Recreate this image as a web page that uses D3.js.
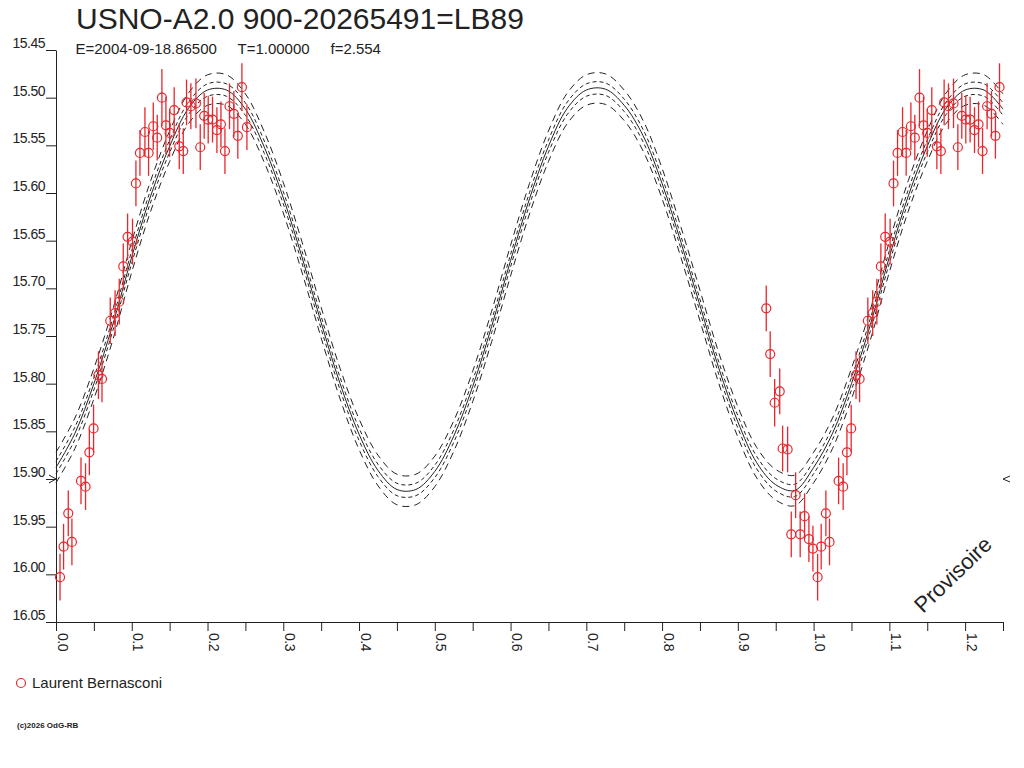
<!DOCTYPE html>
<html>
<head>
<meta charset="utf-8">
<script src="https://cdn.jsdelivr.net/npm/d3@7"></script>
<style>
  body { margin: 0; background: #fff; }
  svg text { font-family: "Liberation Sans", Arial, sans-serif; fill: #222; }
</style>
</head>
<body>
<svg id="chart" width="1024" height="768"></svg>
<script>
// ************************************
// Data
// ************************************

const titleText = "USNO-A2.0 900-20265491=LB89";
const epochText = "E=2004-09-18.86500";
const periodText = "T=1.00000";
const fText = "f=2.554";
const observer = "Laurent Bernasconi";

// observations: phase, magnitude, error
const obsPhase = [
  -0.0625, -0.0573, -0.0514, -0.0447, -0.0409, -0.0343, -0.0295, -0.0237, -0.0177, -0.0119, -0.0062, -0.0009,
  0.0053, 0.0100, 0.0162, 0.0210, 0.0330, 0.0390, 0.0440, 0.0496, 0.0560, 0.0607,
  0.0716, 0.0780, 0.0835, 0.0888, 0.0945, 0.1010, 0.1055, 0.1108, 0.1174, 0.1222,
  0.1284, 0.1336, 0.1398, 0.1451, 0.1500, 0.1560, 0.1627, 0.1680, 0.1723, 0.1780,
  0.1847, 0.1904, 0.1956, 0.2009, 0.2066, 0.2124, 0.2177, 0.2230, 0.2290, 0.2348,
  0.2400, 0.2454, 0.2520
];
const obsMag = [
  15.721, 15.769, 15.820, 15.808, 15.868, 15.869, 15.958, 15.917, 15.958, 15.939, 15.963, 15.973,
  16.003, 15.971, 15.936, 15.966, 15.902, 15.908, 15.872, 15.847, 15.791, 15.795,
  15.734, 15.726, 15.714, 15.677, 15.646, 15.651, 15.590, 15.558, 15.536, 15.558,
  15.530, 15.542, 15.500, 15.529, 15.537, 15.513, 15.551, 15.556, 15.505, 15.509,
  15.506, 15.552, 15.519, 15.523, 15.523, 15.534, 15.528, 15.556, 15.509, 15.517,
  15.540, 15.489, 15.531
];
const obsErr = [
  0.024, 0.024, 0.025, 0.024, 0.024, 0.024, 0.024, 0.024, 0.024, 0.024, 0.024, 0.024,
  0.0245, 0.024, 0.024, 0.0245, 0.0245, 0.0245, 0.024, 0.025, 0.025, 0.0245,
  0.0245, 0.024, 0.024, 0.024, 0.0245, 0.024, 0.024, 0.024, 0.026, 0.024,
  0.025, 0.024, 0.030, 0.030, 0.025, 0.024, 0.024, 0.024, 0.024, 0.024,
  0.026, 0.024, 0.024, 0.025, 0.024, 0.024, 0.024, 0.024, 0.024, 0.024,
  0.024, 0.025, 0.024
];

// fitted model, read every 0.025 in phase
const modelPhase = [
  0.000, 0.025, 0.050, 0.075, 0.100, 0.125, 0.150, 0.175, 0.200, 0.225,
  0.250, 0.275, 0.300, 0.325, 0.350, 0.375, 0.400, 0.425, 0.450, 0.475,
  0.500, 0.525, 0.550, 0.575, 0.600, 0.625, 0.650, 0.675, 0.700, 0.725,
  0.750, 0.775, 0.800, 0.825, 0.850, 0.875, 0.900, 0.925, 0.950, 0.975, 1.000
];
const modelMag = [
  15.888, 15.852, 15.800, 15.738, 15.667, 15.603, 15.551, 15.511, 15.492, 15.492,
  15.512, 15.552, 15.605, 15.668, 15.736, 15.800, 15.853, 15.891, 15.911, 15.911,
  15.892, 15.855, 15.803, 15.740, 15.671, 15.606, 15.551, 15.511, 15.492, 15.491,
  15.508, 15.540, 15.590, 15.652, 15.718, 15.784, 15.840, 15.883, 15.906, 15.912, 15.888
];
// envelope offsets around the model (mag)
const envOffset = [-0.016, -0.0065, 0.0065, 0.016];

const refMag = 15.90;

const yTicks = d3.range(0, 13).map(i => +(15.45 + i * 0.05).toFixed(2));
const xTicks = d3.range(0, 26).map(i => +(i * 0.05).toFixed(2));

// ************************************
// Setup
// ************************************

const svg = d3.select("#chart");
const margin = { top: 50, left: 56 };
const width = 947;
const height = 572;

const x = d3.scaleLinear().domain([0, 1.25]).range([0, width]);
const y = d3.scaleLinear().domain([15.45, 16.05]).range([0, height]);

const g = svg.append("g").attr("transform", `translate(${margin.left},${margin.top})`);

// Title and parameters
svg.append("text").attr("x", 76).attr("y", 29)
  .style("font-size", "30px").text(titleText);
svg.append("text").attr("x", 75.5).attr("y", 54)
  .style("font-size", "15px").text(epochText);
svg.append("text").attr("x", 237.5).attr("y", 54)
  .style("font-size", "15px").text(periodText);
svg.append("text").attr("x", 330.5).attr("y", 54)
  .style("font-size", "15px").text(fText);

// Axes
const yAxis = g.append("g")
  .attr("class", "y axis")
  .call(d3.axisLeft(y).tickValues(yTicks).tickSize(10).tickSizeOuter(0).tickPadding(1)
    .tickFormat(d3.format(".2f")));

yAxis.selectAll("text")
  .attr("dy", "-2.5")
  .style("font-size", "14px")
  .style("letter-spacing", "-0.5px");

const xAxis = g.append("g")
  .attr("class", "x axis")
  .attr("transform", `translate(0,${height})`)
  .call(d3.axisBottom(x).tickValues(xTicks).tickSize(9).tickSizeOuter(0)
    .tickFormat(d => (Math.round(d * 100) % 10 === 0 ? d3.format(".1f")(d) : "")));

xAxis.selectAll("text")
  .attr("transform", "rotate(90)")
  .attr("x", 11)
  .attr("y", -1)
  .attr("dy", 0)
  .attr("text-anchor", "start")
  .style("font-size", "14px")
  .style("letter-spacing", "-0.5px");

g.selectAll(".axis path, .axis line").attr("stroke", "#222");

// reference level markers
g.append("path")
  .attr("d", `M-7,${y(refMag) - 4}L0,${y(refMag)}L-7,${y(refMag) + 4}`)
  .attr("fill", "none").attr("stroke", "#222");
g.append("path")
  .attr("d", `M${width + 7},${y(refMag) - 3}L${width},${y(refMag)}L${width + 7},${y(refMag) + 3}`)
  .attr("fill", "none").attr("stroke", "#222");

// ************************************
// Model curves
// ************************************

const modelPts = modelPhase.map((p, i) => ({ p: p, m: modelMag[i] }))
  .concat(modelPhase.filter(p => p > 0 && p + 1 <= 1.25).map(p => ({ p: p + 1, m: modelMag[modelPhase.indexOf(p)] })));

const modelLine = d3.line()
  .x(d => x(d.p))
  .y(d => y(d.m))
  .curve(d3.curveCatmullRom);

const dashes = ["7,5", "4,3", "4,3", "7,5"];
envOffset.forEach((off, k) => {
  g.append("path")
    .datum(modelPts.map(d => ({ p: d.p, m: d.m + off })))
    .attr("fill", "none")
    .attr("stroke", "#222")
    .attr("stroke-width", 1)
    .attr("stroke-dasharray", dashes[k])
    .attr("d", modelLine);
});

g.append("path")
  .datum(modelPts)
  .attr("fill", "none")
  .attr("stroke", "#222")
  .attr("stroke-width", 1)
  .attr("d", modelLine);

// ************************************
// Observations (folded, repeated one cycle)
// ************************************

const obs = [];
obsPhase.forEach((p, i) => {
  [p, p + 1].forEach(q => {
    if (q >= 0 && q <= 1.25) obs.push({ p: q, m: obsMag[i], e: obsErr[i] });
  });
});

const red = "#e8262c";

g.selectAll(".err")
  .data(obs)
  .enter().append("line")
  .attr("class", "err")
  .attr("x1", d => x(d.p)).attr("x2", d => x(d.p))
  .attr("y1", d => y(d.m - d.e)).attr("y2", d => y(d.m + d.e))
  .attr("stroke", red)
  .attr("stroke-width", 1.3);

g.selectAll(".dot")
  .data(obs)
  .enter().append("circle")
  .attr("class", "dot")
  .attr("cx", d => x(d.p))
  .attr("cy", d => y(d.m))
  .attr("r", 4.5)
  .attr("fill", "none")
  .attr("stroke", red)
  .attr("stroke-width", 1.2);

// Watermark
svg.append("text")
  .attr("transform", "translate(923,614) rotate(-44)")
  .style("font-size", "22px")
  .text("Provisoire");

// Legend
svg.append("circle").attr("cx", 21).attr("cy", 683).attr("r", 4.5)
  .attr("fill", "none").attr("stroke", red).attr("stroke-width", 1.2);
svg.append("text").attr("x", 32).attr("y", 688)
  .style("font-size", "15px").text(observer);

svg.append("text").attr("x", 17).attr("y", 728)
  .style("font-size", "8px").style("font-weight", "bold").text("(c)2026 OdG-RB");
</script>
</body>
</html>
